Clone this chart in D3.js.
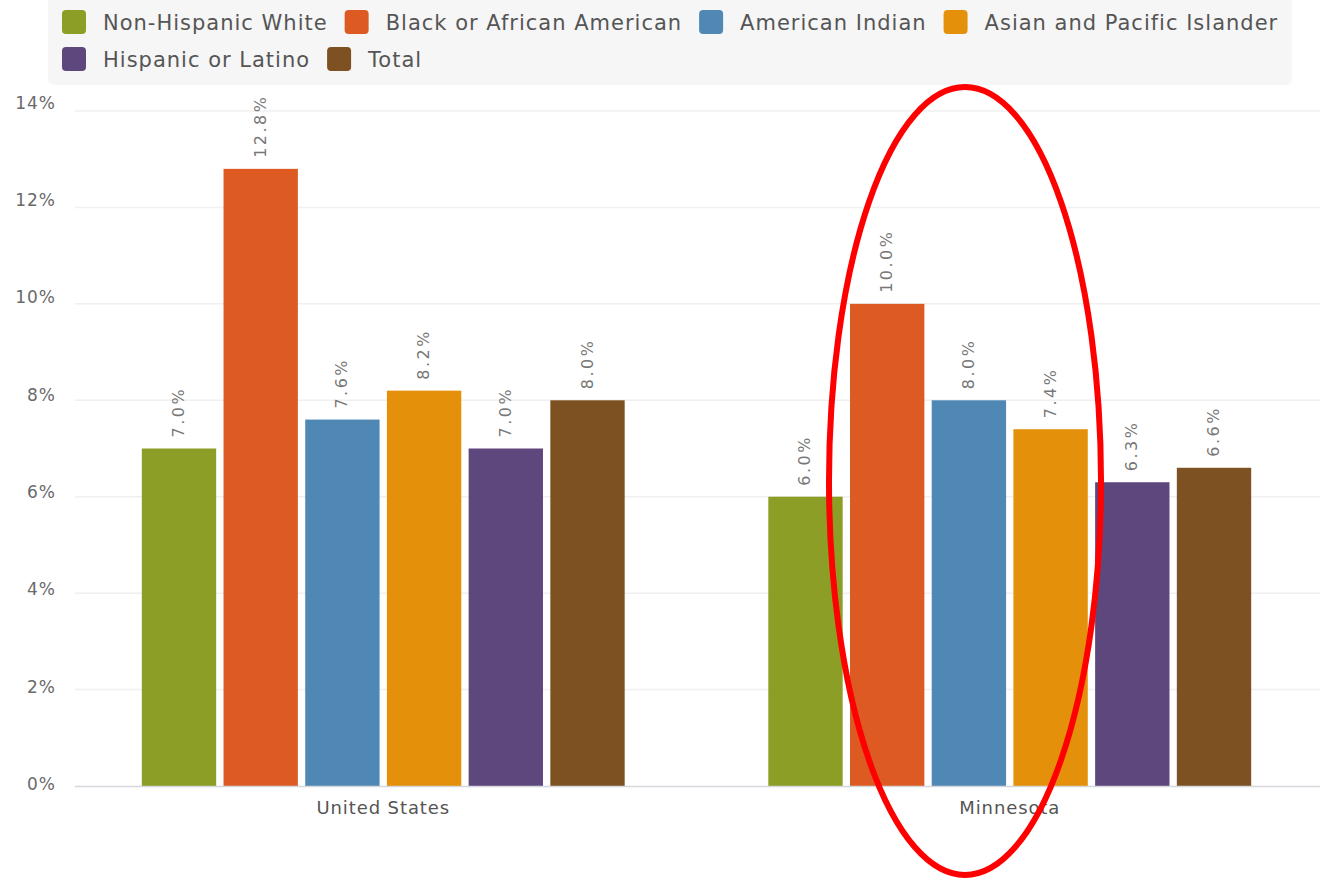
<!DOCTYPE html>
<html><head><meta charset="utf-8">
<script src="https://cdn.jsdelivr.net/npm/d3@7"></script>
<style>body{margin:0;background:#fff;} svg{display:block;}</style>
</head><body>
<svg id="chart" width="1330" height="881"></svg>
<script>
const categories = ["United States", "Minnesota"];
const seriesNames = ["Non-Hispanic White", "Black or African American", "American Indian", "Asian and Pacific Islander", "Hispanic or Latino", "Total"];
const seriesColors = ["#8c9e26", "#dd5b23", "#4f87b5", "#e5900b", "#5e477c", "#7e5123"];
const usValues = [7.0, 12.8, 7.6, 8.2, 7.0, 8.0];
const mnValues = [6.0, 10.0, 8.0, 7.4, 6.3, 6.6];
const yTicks = [0, 2, 4, 6, 8, 10, 12, 14];

const values = [usValues, mnValues];
const svg = d3.select("#chart");
const font = "'DejaVu Sans', sans-serif";

const x0 = d3.scaleBand().domain(categories).range([70, 1323]).paddingInner(0).paddingOuter(0);
const x1 = d3.scaleBand().domain(seriesNames).range([0, x0.bandwidth()]).paddingOuter(0.879).paddingInner(0.09);
const y = d3.scaleLinear().domain([0, 14]).range([786, 111]);

// legend background
svg.append("rect").attr("x", 48).attr("y", -6).attr("width", 1244).attr("height", 91).attr("rx", 6).attr("fill", "#f6f6f6");

// gridlines
svg.append("g").selectAll("line").data(yTicks.slice(1)).join("line")
  .attr("x1", 75).attr("x2", 1320).attr("y1", d => y(d)).attr("y2", d => y(d))
  .attr("stroke", "#f0f0f0").attr("stroke-width", 1.5);

// y axis labels
const yAxis = d3.axisLeft(y).tickValues(yTicks).tickFormat(d => d + "%").tickSize(0).tickPadding(0);
const gy = svg.append("g").attr("transform", "translate(56,0)").call(yAxis);
gy.select(".domain").remove();
gy.selectAll("text").attr("font-family", font).attr("font-size", 17).attr("letter-spacing", 1)
  .attr("fill", "#6a6a6a").attr("dy", "0.2em").attr("x", 0)
  .attr("y", d => -3 * d / 14 * 2);

// bars
const groups = svg.append("g").selectAll("g").data(categories).join("g")
  .attr("transform", d => `translate(${x0(d)},0)`);
groups.each(function(cat, ci) {
  const g = d3.select(this);
  const data = seriesNames.map((s, si) => ({s, si, v: values[ci][si]}));
  g.selectAll("rect").data(data).join("rect")
    .attr("x", d => x1(d.s)).attr("width", x1.bandwidth())
    .attr("y", d => y(d.v)).attr("height", d => y(0) - y(d.v))
    .attr("fill", d => seriesColors[d.si]);
  g.selectAll("text").data(data).join("text")
    .attr("transform", d => `translate(${x1(d.s) + x1.bandwidth() / 2 + 5},${y(d.v) - 11}) rotate(-90)`)
    .attr("font-family", font).attr("font-size", 16).attr("letter-spacing", 2.5)
    .attr("fill", "#777").text(d => d.v.toFixed(1) + "%");
});

// x axis
svg.append("line").attr("x1", 75).attr("x2", 1320).attr("y1", 786.5).attr("y2", 786.5).attr("stroke", "#d4d8dc").attr("stroke-width", 1.5);
const xAxis = d3.axisBottom(x0).tickSize(0).tickPadding(15);
const gx = svg.append("g").attr("transform", "translate(0,786)").call(xAxis);
gx.select(".domain").remove();
gx.selectAll("text").attr("font-family", font).attr("font-size", 18).attr("letter-spacing", 0.9).attr("fill", "#555");

// legend
const legendRows = [[0, 1, 2, 3], [4, 5]];
const rowY = [22, 59];
legendRows.forEach((row, ri) => {
  let cx = 62;
  row.forEach(si => {
    svg.append("rect").attr("x", cx).attr("y", rowY[ri] - 12).attr("width", 24).attr("height", 24).attr("rx", 4)
      .attr("fill", seriesColors[si]);
    const t = svg.append("text").attr("x", cx + 41).attr("y", rowY[ri]).attr("dy", "0.36em")
      .attr("font-family", font).attr("font-size", 21).attr("letter-spacing", 1).attr("fill", "#555").text(seriesNames[si]);
    cx = cx + 41 + t.node().getComputedTextLength() + 17;
  });
});

// annotation ellipse
svg.append("ellipse").attr("cx", 965).attr("cy", 481).attr("rx", 136).attr("ry", 394)
  .attr("fill", "none").attr("stroke", "#ff0000").attr("stroke-width", 6);
</script>
</body></html>
